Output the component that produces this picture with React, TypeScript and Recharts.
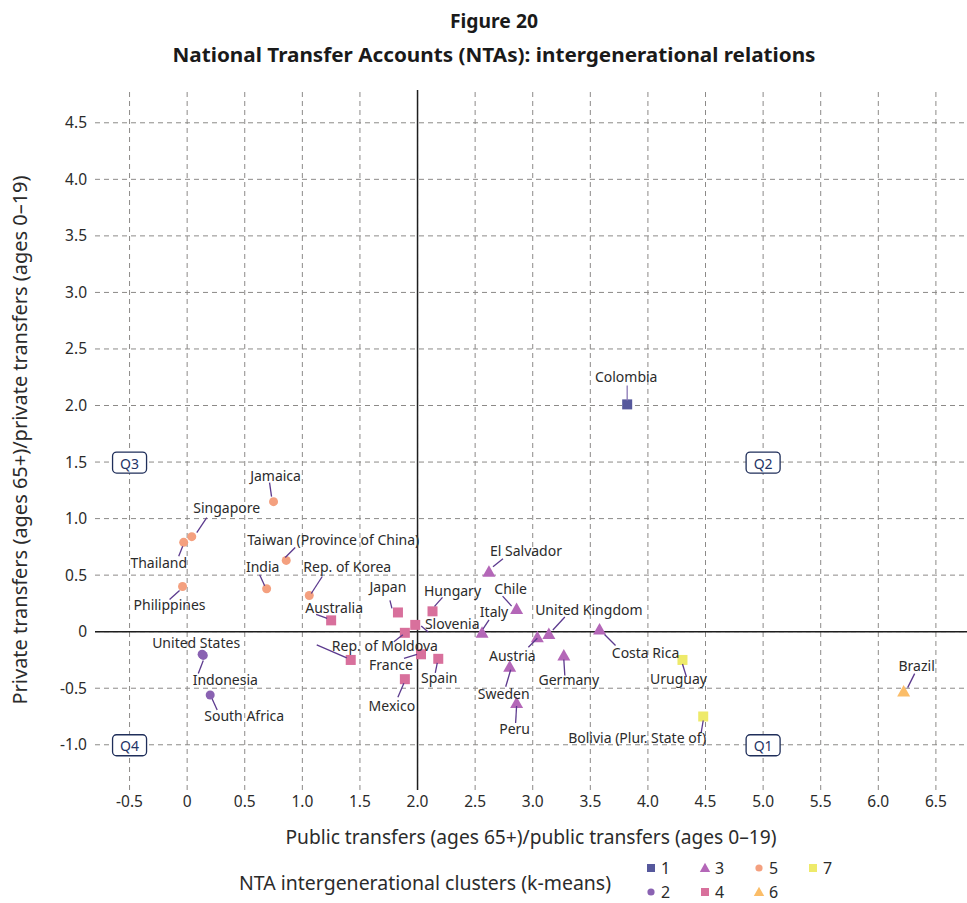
import React from "react";
import {
  ScatterChart,
  Scatter,
  XAxis,
  YAxis,
  ReferenceLine,
} from "recharts";

// values
const countries = [
  "Colombia",
  "United States", "Indonesia", "South Africa",
  "El Salvador", "Chile", "Italy", "Austria", "United Kingdom", "Costa Rica", "Germany", "Sweden", "Peru",
  "Australia", "Japan", "Hungary", "Slovenia", "Rep. of Moldova", "", "France", "Spain", "Mexico",
  "Jamaica", "Singapore", "Thailand", "Philippines", "Taiwan (Province of China)", "India", "Rep. of Korea",
  "Brazil",
  "Uruguay", "Bolivia (Plur. State of)",
];
const publicRatio = [
  3.82,
  0.13, 0.14, 0.2,
  2.62, 2.86, 2.56, 3.04, 3.14, 3.58, 3.27, 2.8, 2.86,
  1.25, 1.83, 2.13, 1.98, 1.89, 1.42, 2.03, 2.18, 1.89,
  0.75, 0.04, -0.03, -0.04, 0.86, 0.69, 1.06,
  6.22,
  4.3, 4.48,
];
const privateRatio = [
  2.01,
  -0.2, -0.21, -0.56,
  0.53, 0.2, -0.01, -0.05, -0.02, 0.02, -0.21, -0.31, -0.63,
  0.1, 0.17, 0.18, 0.06, -0.01, -0.25, -0.2, -0.24, -0.42,
  1.15, 0.84, 0.79, 0.4, 0.63, 0.38, 0.32,
  -0.53,
  -0.25, -0.75,
];
const clusterOf = [
  1,
  2, 2, 2,
  3, 3, 3, 3, 3, 3, 3, 3, 3,
  4, 4, 4, 4, 4, 4, 4, 4, 4,
  5, 5, 5, 5, 5, 5, 5,
  6,
  7, 7,
];

const clusterIds = [1, 2, 3, 4, 5, 6, 7];
const clusterColors = ["#56589c", "#8a62b2", "#b467b8", "#d8709c", "#f4a07f", "#fbbd68", "#eeea6a"];
const clusterShapes = ["square", "circle", "triangle", "square", "circle", "triangle", "square"];

const xTicks = [-0.5, 0, 0.5, 1.0, 1.5, 2.0, 2.5, 3.0, 3.5, 4.0, 4.5, 5.0, 5.5, 6.0, 6.5];
const yTicks = [-1.0, -0.5, 0, 0.5, 1.0, 1.5, 2.0, 2.5, 3.0, 3.5, 4.0, 4.5];

const quadrantLabels = ["Q1", "Q2", "Q3", "Q4"];
const quadrantX = [5.0, 5.0, -0.5, -0.5];
const quadrantY = [-1.0, 1.5, 1.5, -1.0];

// label offsets (px from the point): text centre and leader segment
const labelPlacement: Record<string, { dx: number; dy: number; leader?: number[] }> = {
  "Colombia": { dx: -1, dy: -28, leader: [0, -19, 0, -4] },
  "United States": { dx: -6, dy: -12 },
  "Indonesia": { dx: 22, dy: 24, leader: [0, 5, -5, 18] },
  "South Africa": { dx: 34, dy: 20, leader: [2, 4, 7, 15] },
  "El Salvador": { dx: 37, dy: -21, leader: [4, -5, 14, -13] },
  "Chile": { dx: -6, dy: -21, leader: [-14, -13, -5, -3] },
  "Italy": { dx: 12, dy: -21, leader: [1, -4, 7, -13] },
  "Austria": { dx: -25, dy: 18, leader: [0, 1, -9, 10] },
  "United Kingdom": { dx: 40, dy: -24, leader: [4, -4, 16, -17] },
  "Costa Rica": { dx: 46, dy: 23, leader: [5, 5, 16, 16] },
  "Germany": { dx: 5, dy: 24, leader: [0, 4, 1, 20] },
  "Sweden": { dx: -6, dy: 27, leader: [1, 3, -4, 20] },
  "Peru": { dx: -2, dy: 26, leader: [0, 3, -1, 20] },
  "Australia": { dx: 3, dy: -13, leader: [-15, -6, -4, -2] },
  "Japan": { dx: -10, dy: -26, leader: [-8, -12, -6, -4] },
  "Hungary": { dx: 20, dy: -21, leader: [10, -14, 2, -5] },
  "Slovenia": { dx: 37, dy: -1, leader: [6, 1, 13, 7] },
  "Rep. of Moldova": { dx: -20, dy: 13, leader: [-2, 2, -11, 9] },
  "": { dx: 0, dy: 0, leader: [-34, -15, -4, -2] },
  "France": { dx: -30, dy: 10, leader: [-17, 4, -4, 0] },
  "Spain": { dx: 1, dy: 19, leader: [-1, 4, -3, 14] },
  "Mexico": { dx: -13, dy: 26, leader: [-1, 4, -7, 18] },
  "Jamaica": { dx: 2, dy: -26, leader: [-4, -19, -2, -5] },
  "Singapore": { dx: 35, dy: -29, leader: [15, -19, 5, -4] },
  "Thailand": { dx: -25, dy: 20, leader: [-1, 4, -5, 14] },
  "Philippines": { dx: -13, dy: 18, leader: [-3, 4, -13, 13] },
  "Taiwan (Province of China)": { dx: 47, dy: -21, leader: [-1, -3, 9, -13] },
  "India": { dx: -4, dy: -22, leader: [-7, -14, -2, -3] },
  "Rep. of Korea": { dx: 38, dy: -29, leader: [13, -19, 2, -2] },
  "Brazil": { dx: 13, dy: -26, leader: [4, -4, 11, -18] },
  "Uruguay": { dx: -4, dy: 19, leader: [0, 4, 4, 17] },
  "Bolivia (Plur. State of)": { dx: -66, dy: 21, leader: [0, 4, -2, 16] },
};

const FONT = "'Noto Sans', sans-serif";
const TEXT = "#2b2b2b";
const LEADER = "#5c3a8e";
const GRID = "#8c8a88";

const points = countries.map((name, i) => ({
  name,
  x: publicRatio[i],
  y: privateRatio[i],
  cluster: clusterOf[i],
}));

const quadrants = quadrantLabels.map((label, i) => ({ label, x: quadrantX[i], y: quadrantY[i] }));

const fmt = (v: number) => (v === 0 ? "0" : v.toFixed(1));

const drawMarker = (kind: string, cx: number, cy: number, color: string, s = 1) => {
  if (kind === "square")
    return <rect x={cx - 5 * s} y={cy - 5 * s} width={10 * s} height={10 * s} fill={color} />;
  if (kind === "circle") return <circle cx={cx} cy={cy} r={4.5 * s} fill={color} />;
  return (
    <path
      d={`M${cx},${cy - 6.5 * s} L${cx + 6.5 * s},${cy + 5 * s} L${cx - 6.5 * s},${cy + 5 * s} Z`}
      fill={color}
    />
  );
};

const CountryLabel = (props: any) => {
  const { cx, cy, payload } = props;
  const p = labelPlacement[payload.name];
  if (!p || cx == null) return <g />;
  const l = p.leader;
  return (
    <g>
      {l && (
        <line
          x1={cx + l[0]}
          y1={cy + l[1]}
          x2={cx + l[2]}
          y2={cy + l[3]}
          stroke={payload.cluster === 1 ? "#8a78b5" : LEADER}
          strokeWidth={1.3}
        />
      )}
      {payload.name && (
        <text
          x={cx + p.dx}
          y={cy + p.dy}
          textAnchor="middle"
          dominantBaseline="central"
          fontFamily={FONT}
          fontSize={14}
          fill={TEXT}
        >
          {payload.name}
        </text>
      )}
    </g>
  );
};

const QuadrantBox = (props: any) => {
  const { cx, cy, payload } = props;
  if (cx == null) return <g />;
  return (
    <g>
      <rect x={cx - 17} y={cy - 10} width={34} height={21} rx={4} fill="#fff" stroke="#1f2e5a" strokeWidth={1.3} />
      <text x={cx} y={cy + 1} textAnchor="middle" dominantBaseline="central" fontFamily={FONT} fontSize={14} fill="#1f3466">
        {payload.label}
      </text>
    </g>
  );
};

const Legend = () => (
  <svg width={967} height={53} style={{ position: "absolute", left: 0, top: 850 }}>
    <text x={425} y={33} textAnchor="middle" dominantBaseline="central" fontFamily={FONT} fontSize={19} fill={TEXT} textLength={372} lengthAdjust="spacingAndGlyphs">
      NTA intergenerational clusters (k-means)
    </text>
    {clusterIds.map((id, i) => {
      const col = Math.floor(i / 2);
      const row = i % 2;
      const mx = 651 + col * 54;
      const my = 18 + row * 24;
      return (
        <g key={id}>
          {drawMarker(clusterShapes[i], mx, my, clusterColors[i], 0.8)}
          <text x={mx + 10} y={my} dominantBaseline="central" fontFamily={FONT} fontSize={16} fill={TEXT}>
            {id}
          </text>
        </g>
      );
    })}
  </svg>
);

const App: React.FC = () => {
  return (
    <div style={{ position: "absolute", left: 0, top: 0, width: 967, height: 903, background: "#fff" }}>
      <svg width={967} height={80} style={{ position: "absolute", left: 0, top: 0 }}>
        <text x={494} y={21} textAnchor="middle" dominantBaseline="central" fontFamily={FONT} fontWeight={700} fontSize={19} fill="#1a1a1a" textLength={88} lengthAdjust="spacingAndGlyphs">
          Figure 20
        </text>
        <text x={494} y={55} textAnchor="middle" dominantBaseline="central" fontFamily={FONT} fontWeight={700} fontSize={19} fill="#1a1a1a" textLength={643} lengthAdjust="spacingAndGlyphs">
          National Transfer Accounts (NTAs): intergenerational relations
        </text>
      </svg>
      <div style={{ position: "absolute", left: 0, top: 0 }}>
        <ScatterChart width={967} height={903} margin={{ top: 90, right: 0, bottom: 53, left: 10 }}>
          <XAxis
            type="number"
            dataKey="x"
            domain={[-0.8, 6.77]}
            ticks={xTicks}
            tickFormatter={fmt}
            allowDataOverflow
            axisLine={false}
            tickLine={false}
            tickSize={0}
            tickMargin={6}
            height={60}
            tick={{ fontSize: 15.5, fill: TEXT, fontFamily: FONT }}
            label={{
              value: "Public transfers (ages 65+)/public transfers (ages 0–19)",
              position: "insideBottom",
              offset: 6,
              fontSize: 19,
              fill: TEXT,
              fontFamily: FONT,
              textLength: 491,
              lengthAdjust: "spacingAndGlyphs",
            }}
          />
          <YAxis
            type="number"
            dataKey="y"
            domain={[-1.4, 4.79]}
            ticks={yTicks}
            tickFormatter={fmt}
            allowDataOverflow
            axisLine={false}
            tickLine={false}
            width={85}
            tick={{ fontSize: 15.5, fill: TEXT, fontFamily: FONT }}
            label={{
              value: "Private transfers (ages 65+)/private transfers (ages 0–19)",
              angle: -90,
              position: "insideLeft",
              offset: 10,
              fontSize: 19,
              fill: TEXT,
              fontFamily: FONT,
              textLength: 529,
              lengthAdjust: "spacingAndGlyphs",
              style: { textAnchor: "middle" },
            }}
          />
          {xTicks.map((t) => (
            <ReferenceLine key={`vx${t}`} x={t} stroke={GRID} strokeDasharray="5 4" />
          ))}
          {yTicks.map((t) => (
            <ReferenceLine key={`hy${t}`} y={t} stroke={GRID} strokeDasharray="5 4" />
          ))}
          <ReferenceLine x={2} stroke="#1e1e1e" strokeWidth={1.5} />
          <ReferenceLine y={0} stroke="#1e1e1e" strokeWidth={1.5} />
          <Scatter data={quadrants} shape={QuadrantBox} isAnimationActive={false} />
          {clusterIds.map((id, i) => (
            <Scatter
              key={id}
              name={String(id)}
              data={points.filter((p) => p.cluster === id)}
              fill={clusterColors[i]}
              shape={(props: any) =>
                props.cx == null ? <g /> : drawMarker(clusterShapes[i], props.cx, props.cy, clusterColors[i])
              }
              isAnimationActive={false}
            />
          ))}
          <Scatter data={points} shape={CountryLabel} isAnimationActive={false} />
        </ScatterChart>
      </div>
      <Legend />
    </div>
  );
};

export default App;
